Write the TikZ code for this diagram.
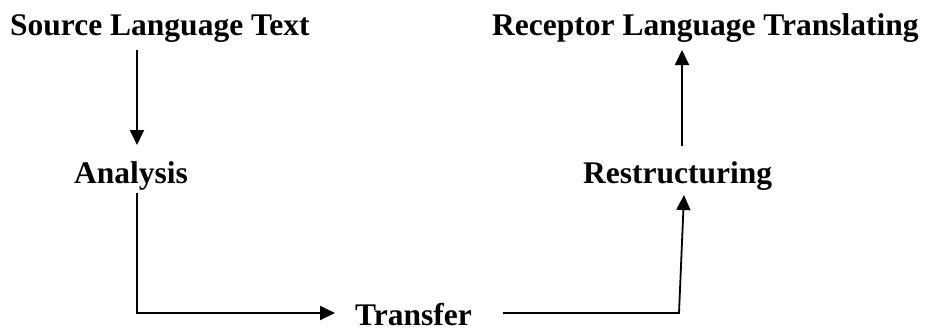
\documentclass[tikz,border=0pt]{standalone}
\usepackage{fontspec}
\setmainfont{Liberation Serif}
\usetikzlibrary{arrows.meta}
\begin{document}
\begin{tikzpicture}[x=1pt,y=-1pt,
  lbl/.style={anchor=base west,inner sep=0pt,font=\fontsize{31.5}{36}\selectfont\bfseries},
  arr/.style={line width=1.8pt,-{Triangle[length=15pt,width=14pt]}},
  ln/.style={line width=1.8pt}]
\useasboundingbox (0,0) rectangle (929,333);
\node[lbl] (src) at (10,35) {Source Language Text};
\node[lbl] (rec) at (492,35) {Receptor Language Translating};
\node[lbl] (ana) at (74,183) {Analysis};
\node[lbl] (res) at (583,183) {Restructuring};
\node[lbl] (tra) at (355,325) {Transfer};
% connector end points
\coordinate (s1) at (137,50);
\coordinate (a1) at (137,145);
\coordinate (a2) at (137,193);
\coordinate (c1) at (137,313);
\coordinate (t1) at (335,313);
\coordinate (t2) at (503,313);
\coordinate (c2) at (679,313);
\coordinate (r1) at (684,195);
\coordinate (r2) at (682,146);
\coordinate (e1) at (682,50);
\draw[arr] (s1) -- (a1);
\draw[arr] (a2) -- (c1) -- (t1);
\draw[arr] (t2) -- (c2) -- (r1);
\draw[arr] (r2) -- (e1);
\end{tikzpicture}
\end{document}
